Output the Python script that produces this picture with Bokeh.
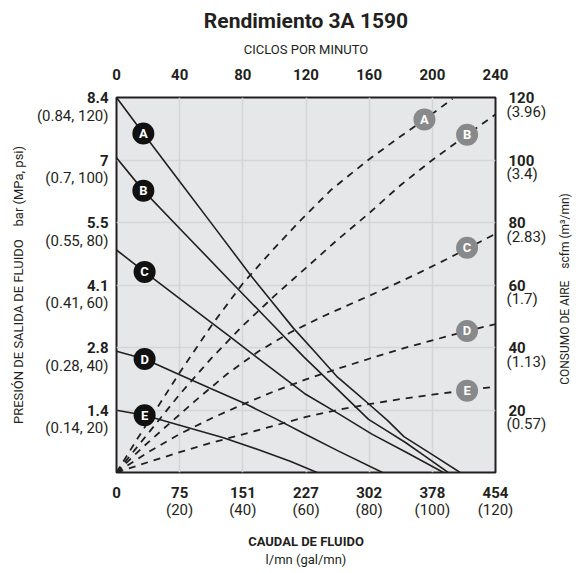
import math
from bokeh.plotting import figure
from bokeh.models import Range1d, LinearAxis, FixedTicker, Title, Label
from bokeh.core.properties import value
from bokeh.embed import file_html
from bokeh.resources import INLINE

# ---------------- data ----------------
flow_gpm_ticks = [0, 20, 40, 60, 80, 100, 120]
flow_lpm_labels = ["0", "75", "151", "227", "302", "378", "454"]
flow_gpm_labels = ["", "(20)", "(40)", "(60)", "(80)", "(100)", "(120)"]
cpm_ticks = [0, 40, 80, 120, 160, 200, 240]
psi_ticks = [20, 40, 60, 80, 100, 120]
bar_labels = ["1.4", "2.8", "4.1", "5.5", "7", "8.4"]
mpa_psi_labels = ["(0.14, 20)", "(0.28, 40)", "(0.41, 60)", "(0.55, 80)", "(0.7, 100)", "(0.84, 120)"]
scfm_ticks = [20, 40, 60, 80, 100, 120]
scfm_labels = ["20", "40", "60", "80", "100", "120"]
m3_labels = ["(0.57)", "(1.13)", "(1.7)", "(2.83)", "(3.4)", "(3.96)"]

curve_names = ["A", "B", "C", "D", "E"]

# fluid outlet pressure (psi) vs fluid flow (gpm) -- solid curves
press_A_gpm = [0, 8.5, 20, 30, 42.4, 50, 56, 63, 70, 76, 79.8, 85.8, 91, 100, 108.8]
press_A_psi = [120, 108.5, 93.1, 79.8, 63.2, 53.7, 46.2, 38.4, 30.5, 25.3, 22.0, 16.7, 11.5, 5.7, 0]
press_B_gpm = [0, 8.5, 20, 36, 48, 59.3, 70, 79.8, 85, 91.5, 98, 105]
press_B_psi = [100.7, 90.2, 78.1, 61.3, 48.8, 37.0, 26.6, 17.0, 13.7, 9.6, 5.0, 0]
press_C_gpm = [0, 8.9, 22, 36.1, 48, 59.5, 70, 81, 92, 103.5]
press_C_psi = [71.2, 64.2, 54.1, 43.3, 34.1, 25.3, 19.0, 12.2, 6.3, 0]
press_D_gpm = [0, 8.9, 20, 30, 41, 50, 59.5, 70, 84.2]
press_D_psi = [38.8, 36.3, 31.3, 26.8, 21.9, 17.4, 12.4, 7.0, 0]
press_E_gpm = [0, 8.9, 20, 33.6, 45, 55, 63.5]
press_E_psi = [19.9, 18.3, 15.1, 11.2, 7.3, 3.6, 0]

# air consumption (scfm) vs fluid flow (gpm) -- dashed curves
air_A_gpm = [0, 6, 12.3, 19.9, 30.4, 40, 50, 57.9, 68, 79.8, 90, 98, 106.4]
air_A_scfm = [0, 9.8, 19.8, 31.8, 47.5, 60.5, 71.8, 80.3, 90.5, 100.1, 107.6, 113.3, 119.6]
air_B_gpm = [0, 6, 12, 20, 30, 40, 50, 60, 70, 80, 90, 100, 111, 120]
air_B_scfm = [0, 7.5, 15, 25, 36.5, 47, 56.5, 65.5, 74.5, 83, 92, 100, 108.1, 114.6]
air_C_gpm = [0, 8, 16, 25, 35, 45, 55, 65, 75, 85, 95, 105, 120]
air_C_scfm = [0, 7.8, 15, 23, 31.5, 38.8, 44.8, 49.8, 54.3, 58.8, 63.5, 68.5, 76.4]
air_D_gpm = [0, 10, 20, 30, 40, 50, 60, 70, 80, 90, 100, 110, 120]
air_D_scfm = [0, 6.5, 12.3, 17.3, 21.8, 26, 29.8, 33.2, 36.4, 39.5, 42.3, 45, 47.5]
air_E_gpm = [0, 10, 20, 30, 40, 50, 60, 70, 80, 90, 100, 110, 120]
air_E_scfm = [0, 3.3, 6.5, 9.5, 12.2, 15, 17.8, 20, 21.9, 23.5, 24.9, 26.2, 27.5]

# curve letter markers
press_mark_gpm = [8.5, 8.5, 8.9, 8.9, 8.9]
press_mark_psi = [108.5, 90.2, 64.2, 36.3, 18.3]
air_mark_gpm = [97.5, 111, 111, 111, 111]
air_mark_scfm = [113.0, 108.1, 71.9, 45.3, 26.2]

# ---------------- style ----------------
FONT = "Roboto"
TXT = "#231f20"
BOLD_TICK = "15px"
PAREN = "15px"
FRAME_W, FRAME_H = 379, 375
LEFT_PAREN_DROP = 18   # px the (MPa, psi) line sits below the bar value
RIGHT_PAREN_DROP = 14  # px the (m3/mn) line sits below the scfm value
RIGHT_TITLE_RAISE = -4  # px the right title sits above the frame centre

y_lo, y_hi = 0, 120
px = (y_hi - y_lo) / FRAME_H
lshift = LEFT_PAREN_DROP * px
rshift = RIGHT_PAREN_DROP * px

p = figure(frame_width=FRAME_W, frame_height=FRAME_H, title=None,
           x_range=Range1d(0, 120), y_range=Range1d(y_lo, y_hi),
           output_backend="svg", toolbar_location=None,
           min_border_left=116, min_border_right=82,
           min_border_top=97, min_border_bottom=100)
p.extra_x_ranges = {"cpm": Range1d(0, 240)}
p.extra_y_ranges = {"air": Range1d(y_lo, y_hi),
                    "psi_paren": Range1d(y_lo + lshift, y_hi + lshift),
                    "air_paren": Range1d(y_lo + rshift, y_hi + rshift)}

p.background_fill_color = "#e6e7e8"
p.border_fill_color = "white"
p.outline_line_color = TXT
p.outline_line_width = 2

for g in (p.xgrid[0], p.ygrid[0]):
    g.grid_line_color = "#d4d5d6"
    g.grid_line_width = 1.6
p.xgrid[0].ticker = FixedTicker(ticks=flow_gpm_ticks[1:-1])
p.ygrid[0].ticker = FixedTicker(ticks=psi_ticks[:-1])


def style_axis(ax, standoff, bold=True, size=BOLD_TICK):
    ax.axis_line_color = None
    ax.major_tick_line_color = None
    ax.minor_tick_line_color = None
    ax.major_tick_out = 0
    ax.major_tick_in = 0
    ax.major_label_standoff = standoff
    ax.major_label_text_font = FONT
    ax.major_label_text_font_size = size
    ax.major_label_text_font_style = "bold" if bold else "normal"
    ax.major_label_text_color = TXT
    ax.axis_label_text_font = FONT
    ax.axis_label_text_color = TXT
    ax.axis_label_text_font_style = "normal"


# bottom: l/mn (bold) then (gal/mn)
xb = p.xaxis[0]
xb.ticker = FixedTicker(ticks=flow_gpm_ticks)
xb.major_label_overrides = {t: l for t, l in zip(flow_gpm_ticks, flow_lpm_labels)}
style_axis(xb, 14)

xb2 = LinearAxis(ticker=FixedTicker(ticks=flow_gpm_ticks))
xb2.major_label_overrides = {t: l for t, l in zip(flow_gpm_ticks, flow_gpm_labels)}
style_axis(xb2, 0, bold=False, size=PAREN)
xb2.axis_label = "CAUDAL DE FLUIDO"
xb2.axis_label_text_font_style = "bold"
xb2.axis_label_text_font_size = "13px"
xb2.axis_label_standoff = 12
p.add_layout(xb2, "below")

p.add_layout(Title(text="l/mn (gal/mn)", align="center", standoff=-3, text_font=FONT,
                   text_font_size="13px", text_font_style="normal", text_color=TXT), "below")

# left: bar (bold) then (MPa, psi)
yl = p.yaxis[0]
yl.ticker = FixedTicker(ticks=psi_ticks)
yl.major_label_overrides = {t: l for t, l in zip(psi_ticks, bar_labels)}
style_axis(yl, 8)

yl2 = LinearAxis(y_range_name="psi_paren", ticker=FixedTicker(ticks=psi_ticks))
yl2.major_label_overrides = {t: l for t, l in zip(psi_ticks, mpa_psi_labels)}
style_axis(yl2, -25, bold=False, size=PAREN)
yl2.axis_label = "PRESIÓN DE SALIDA DE FLUIDO\u00a0\u00a0\u00a0\u00a0bar (MPa, psi)"
yl2.axis_label_text_font_size = "13px"
yl2.axis_label_standoff = 8
p.add_layout(yl2, "left")

# top: cycles per minute
xt = LinearAxis(x_range_name="cpm", ticker=FixedTicker(ticks=cpm_ticks))
style_axis(xt, 18)
xt.axis_label = "CICLOS POR MINUTO"
xt.axis_label_text_font_size = "13px"
xt.axis_label_standoff = 9
p.add_layout(xt, "above")

p.add_layout(Title(text="Rendimiento 3A 1590", align="center", standoff=11, text_font=FONT,
                   text_font_size="21px", text_font_style="bold", text_color=TXT), "above")

# right: scfm (bold) then (m3/mn)
yr = LinearAxis(y_range_name="air", ticker=FixedTicker(ticks=scfm_ticks))
yr.major_label_overrides = {t: l for t, l in zip(scfm_ticks, scfm_labels)}
style_axis(yr, 13)
p.add_layout(yr, "right")

yr2 = LinearAxis(y_range_name="air_paren", ticker=FixedTicker(ticks=scfm_ticks))
yr2.major_label_overrides = {t: l for t, l in zip(scfm_ticks, m3_labels)}
style_axis(yr2, -31, bold=False, size=PAREN)
p.add_layout(yr2, "right")

# right-hand title, reading bottom-to-top like the reference
p.add_layout(Label(text="CONSUMO DE AIRE\u00a0\u00a0\u00a0\u00a0scfm (m\u00b3/mn)",
                   x=15, x_units="screen", y=(y_lo + y_hi) / 2 + RIGHT_TITLE_RAISE * px,
                   angle=math.pi / 2, text_align="center", text_baseline="middle",
                   text_font=FONT, text_font_size="12px", text_color=TXT), "right")

# curves
press = [(press_A_gpm, press_A_psi), (press_B_gpm, press_B_psi), (press_C_gpm, press_C_psi),
         (press_D_gpm, press_D_psi), (press_E_gpm, press_E_psi)]
air = [(air_A_gpm, air_A_scfm), (air_B_gpm, air_B_scfm), (air_C_gpm, air_C_scfm),
       (air_D_gpm, air_D_scfm), (air_E_gpm, air_E_scfm)]
for xs, ys in air:
    p.line(xs, ys, y_range_name="air", line_color=TXT, line_width=1.8, line_dash="7 6")
for xs, ys in press:
    p.line(xs, ys, line_color=TXT, line_width=1.6)

p.scatter(press_mark_gpm, press_mark_psi, marker="circle", size=22, fill_color="#111111", line_color=None)
p.scatter(air_mark_gpm, air_mark_scfm, marker="circle", size=22, fill_color="#87898b", line_color=None,
          y_range_name="air")
p.text(press_mark_gpm, press_mark_psi, text=curve_names, text_align="center", text_baseline="middle",
       text_font=value(FONT), text_font_size="13px", text_font_style="bold", text_color="white")
p.text(air_mark_gpm, air_mark_scfm, text=curve_names, text_align="center", text_baseline="middle",
       text_font=value(FONT), text_font_size="13px", text_font_style="bold", text_color="white",
       y_range_name="air")

open("out.html", "w").write(file_html(p, INLINE))
